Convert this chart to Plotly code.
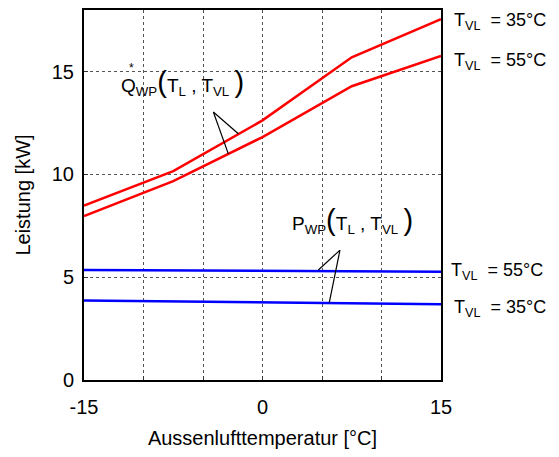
import plotly.graph_objects as go

# Data
T_air = [-15, -7.5, 0, 7.5, 15]
Q_35 = [8.48, 10.16, 12.63, 15.70, 17.55]
Q_55 = [7.98, 9.67, 11.82, 14.29, 15.76]
T_air_p = [-15, 15]
P_55 = [5.35, 5.27]
P_35 = [3.87, 3.68]

x_ticks = [-15, -10, -5, 0, 5, 10, 15]
x_ticktext = ["-15", "", "", "0", "", "", "15"]
y_ticks = [0, 5, 10, 15]

FONT = "Liberation Sans, Arial, sans-serif"

fig = go.Figure()
fig.add_trace(go.Scatter(x=T_air, y=Q_35, mode="lines", line=dict(color="#ff0000", width=2.5), showlegend=False))
fig.add_trace(go.Scatter(x=T_air, y=Q_55, mode="lines", line=dict(color="#ff0000", width=2.5), showlegend=False))
fig.add_trace(go.Scatter(x=T_air_p, y=P_55, mode="lines", line=dict(color="#0000ff", width=2.5), showlegend=False))
fig.add_trace(go.Scatter(x=T_air_p, y=P_35, mode="lines", line=dict(color="#0000ff", width=2.5), showlegend=False))

# Leader lines (annotation pointers)
leaders = [
    ((-4.13, 13.04), (-2.03, 11.98)),
    ((-4.13, 13.04), (-2.87, 11.00)),
    ((6.51, 6.32), (4.69, 5.35)),
    ((6.51, 6.32), (5.61, 3.76)),
]
for (x0, y0), (x1, y1) in leaders:
    fig.add_shape(type="line", xref="x", yref="y", x0=x0, y0=y0, x1=x1, y1=y1,
                  line=dict(color="black", width=1.2))

paren = '<span style="font-size:29px">%s</span>'
fig.add_annotation(x=-6.75, y=14.49, xref="x", yref="y", showarrow=False,
                   text="Q<sub>WP</sub>" + paren % "(" + "T<sub>L</sub> , T<sub>VL</sub> " + paren % ")",
                   font=dict(size=19, family=FONT, color="black"))
# dot above Q
fig.add_annotation(x=-11.0, y=15.17, xref="x", yref="y", showarrow=False,
                   text="*", font=dict(size=12, family=FONT, color="black"))
fig.add_annotation(x=7.6, y=7.74, xref="x", yref="y", showarrow=False,
                   text="P<sub>WP</sub>" + paren % "(" + "T<sub>L</sub> , T<sub>VL</sub> " + paren % ")",
                   font=dict(size=19, family=FONT, color="black"))

right_labels = [
    (17.45, "T<sub>VL</sub>  = 35°C", 1.031),
    (15.50, "T<sub>VL</sub>  = 55°C", 1.031),
    (5.30, "T<sub>VL</sub>  = 55°C", 1.022),
    (3.50, "T<sub>VL</sub>  = 35°C", 1.031),
]
for yv, txt, xp in right_labels:
    fig.add_annotation(x=xp, y=yv, xref="paper", yref="y", xanchor="left", showarrow=False,
                       text=txt, font=dict(size=18, family=FONT, color="black"))

# page body has an 8px default margin, so the figure is sized to fit the window
fig.update_layout(
    width=551, height=449,
    margin=dict(l=76, r=118, t=2, b=77),
    plot_bgcolor="white", paper_bgcolor="white",
    font=dict(family=FONT, size=20, color="black"),
)
fig.update_xaxes(range=[-15, 15], tickvals=x_ticks, ticktext=x_ticktext, automargin=False,
                 showline=True, linecolor="black", linewidth=2, mirror=True,
                 ticks="inside", ticklen=4, tickcolor="#333", ticklabelstandoff=8,
                 showgrid=True, gridcolor="#555", griddash="dot", gridwidth=1,
                 zeroline=False,
                 title=dict(text="Aussenlufttemperatur [°C]", font=dict(size=20), standoff=14),
                 tickfont=dict(size=20))
fig.update_yaxes(range=[0, 18], tickvals=y_ticks, automargin=False,
                 showline=True, linecolor="black", linewidth=2, mirror=True,
                 ticks="inside", ticklen=4, tickcolor="#333", ticklabelstandoff=4,
                 showgrid=True, gridcolor="#555", griddash="dot", gridwidth=1,
                 zeroline=False,
                 title=dict(text="Leistung [kW]", font=dict(size=20), standoff=16),
                 tickfont=dict(size=20))

fig.write_html("out.html")
